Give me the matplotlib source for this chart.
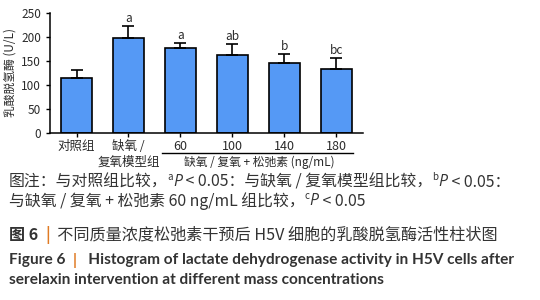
import numpy as np
import matplotlib
matplotlib.use("Agg")
import matplotlib.pyplot as plt

plt.rcParams['font.family'] = ['Noto Sans CJK SC', 'DejaVu Sans']

# data
groups = ['对照组', '缺氧 /\n复氧模型组', '60', '100', '140', '180']
ldh_mean = [115, 198, 178, 162, 146, 133]
ldh_err = [16, 24, 10, 24, 19, 23]
sig_marks = ['', 'a', 'a', 'ab', 'b', 'bc']
y_ticks = [0, 50, 100, 150, 200, 250]

bar_color = '#5599f5'
text_dark = '#2b2b2b'
orange = '#e07b24'

fig = plt.figure(figsize=(5.4, 3.0), dpi=100)
ax = fig.add_axes([0.0926, 0.5567, 0.5794, 0.40])

x = np.arange(len(groups))
ax.bar(x, ldh_mean, width=0.6, color=bar_color, edgecolor='black', linewidth=1.2, zorder=2)
ax.errorbar(x, ldh_mean, yerr=[np.zeros(len(x)), ldh_err], fmt='none',
            ecolor='black', elinewidth=1.2, capsize=4.5, capthick=1.2, zorder=3)
for xi, m, e, s in zip(x, ldh_mean, ldh_err, sig_marks):
  if s:
    ax.text(xi, m + e + 2, s, ha='center', va='bottom', fontsize=8.5, color=text_dark)

ax.set_xlim(-0.51, 5.51)
ax.set_ylim(0, 250)
ax.set_yticks(y_ticks)
ax.set_xticks(x)
ax.set_xticklabels(groups, fontsize=9, color=text_dark, linespacing=1.3, va='top')
ax.tick_params(axis='y', labelsize=8.5, labelcolor=text_dark, length=3, width=1)
ax.tick_params(axis='x', length=3, width=1, pad=2)
for side in ['top', 'right']:
  ax.spines[side].set_visible(False)
for side in ['left', 'bottom']:
  ax.spines[side].set_linewidth(1.1)
ax.set_ylabel('乳酸脱氢酶 (U/L)', fontsize=8.5, color=text_dark, labelpad=3)

# bracket under the serelaxin groups
fig.add_artist(plt.Line2D([162 / 540, 353 / 540], [1 - 152.7 / 300] * 2, color='black', lw=1))
fig.text(259 / 540, 1 - 162 / 300, '缺氧 / 复氧 + 松弛素 (ng/mL)', ha='center', va='center',
         fontsize=8.5, color=text_dark)

# captions, drawn piece by piece so that P can be italic, the bar orange, etc.
renderer = fig.canvas.get_renderer()

def line(y_px, pieces, size):
  xpos = 9
  for txt, kw in pieces:
    opts = dict(color='#333333', fontsize=size, ha='left', va='center')
    opts.update(kw)
    t = fig.text(xpos / 540, 1 - y_px / 300, txt, **opts)
    xpos += t.get_window_extent(renderer).width

sup = dict(fontsize=7, va='bottom')
ital = dict(style='italic', family=['Open Sans', 'DejaVu Sans'])
line(182, [('图注：与对照组比较，', {}), ('a', sup), ('P', ital), (' < 0.05：与缺氧 / 复氧模型组比较，', {}),
           ('b', sup), ('P', ital), (' < 0.05：', {})], 11.4)
line(201, [('与缺氧 / 复氧 + 松弛素 60 ng/mL 组比较，', {}), ('c', sup), ('P', ital), (' < 0.05', {})], 11.4)
line(235, [('图 6  ', dict(fontweight='bold')), ('|', dict(color=orange, fontweight='bold')),
           ('  不同质量浓度松弛素干预后 H5V 细胞的乳酸脱氢酶活性柱状图', {})], 11.6)
eng = dict(fontweight='bold', family='Lato')
line(260, [('Figure 6  ', eng), ('|', dict(color=orange, fontweight='bold', family='Lato')),
           ('   Histogram of lactate dehydrogenase activity in H5V cells after', eng)], 11.1)
line(280, [('serelaxin intervention at different mass concentrations', eng)], 11.1)

fig.savefig('out.png', dpi=100)
